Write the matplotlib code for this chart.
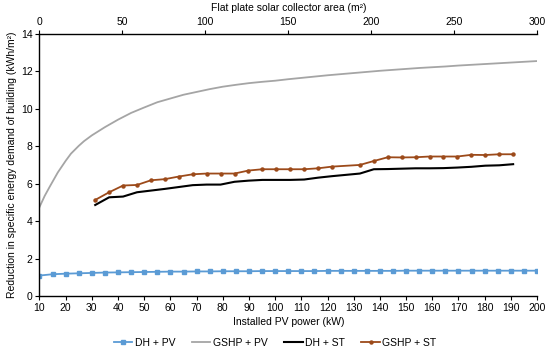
import matplotlib
matplotlib.use("Agg")
import matplotlib.pyplot as plt

plt.rcParams['font.family'] = ['Liberation Sans', 'DejaVu Sans']

# installed PV power (kW) - PV series
pv_kw = [10, 15, 20, 25, 30, 35, 40, 45, 50, 55, 60, 65, 70, 75, 80, 85, 90, 95, 100,
         105, 110, 115, 120, 125, 130, 135, 140, 145, 150, 155, 160, 165, 170, 175,
         180, 185, 190, 195, 200]
dh_pv = [1.09, 1.16, 1.19, 1.21, 1.23, 1.25, 1.26, 1.27, 1.28, 1.29, 1.30, 1.30, 1.31,
         1.31, 1.32, 1.32, 1.32, 1.33, 1.33, 1.33, 1.33, 1.33, 1.34, 1.34, 1.34, 1.34,
         1.34, 1.34, 1.35, 1.35, 1.35, 1.35, 1.35, 1.35, 1.35, 1.35, 1.35, 1.35, 1.35]

# grey curve read more densely at the steep start
gshp_kw = [10, 12, 14, 17, 20, 22, 25, 27, 30, 35, 40, 45, 50, 55, 60, 65, 70, 75, 80,
           85, 90, 95, 100, 105, 110, 115, 120, 125, 130, 135, 140, 145, 150, 155, 160,
           165, 170, 175, 180, 185, 190, 195, 200]
gshp_pv = [4.75, 5.35, 5.86, 6.6, 7.22, 7.6, 8.02, 8.27, 8.58, 9.02, 9.42, 9.78, 10.07,
           10.35, 10.55, 10.75, 10.9, 11.05, 11.18, 11.28, 11.37, 11.44, 11.5, 11.58,
           11.65, 11.72, 11.79, 11.85, 11.91, 11.97, 12.03, 12.08, 12.13, 12.18, 12.22,
           12.26, 12.31, 12.35, 12.39, 12.43, 12.47, 12.51, 12.55]

# flat plate collector area (m2) - ST series
st_area = [33.6, 42.0, 50.4, 58.8, 67.2, 75.6, 84.0, 92.4, 100.8, 109.2, 117.6, 126.0,
           134.4, 142.8, 151.2, 159.6, 168.0, 176.4, 193.2, 201.6, 210.0, 218.4, 226.8,
           235.2, 243.6, 252.0, 260.4, 268.8, 277.2, 285.6]
dh_st = [4.86, 5.27, 5.31, 5.54, 5.63, 5.72, 5.82, 5.92, 5.95, 5.95, 6.1, 6.16, 6.2,
         6.2, 6.2, 6.22, 6.32, 6.4, 6.54, 6.77, 6.78, 6.8, 6.82, 6.82, 6.83, 6.86, 6.9,
         6.96, 6.98, 7.04]
gshp_st = [5.13, 5.54, 5.9, 5.93, 6.18, 6.24, 6.38, 6.5, 6.54, 6.54, 6.54, 6.7, 6.77,
           6.77, 6.77, 6.77, 6.82, 6.91, 7.0, 7.21, 7.41, 7.4, 7.41, 7.45, 7.45, 7.45,
           7.54, 7.53, 7.57, 7.57]

fig = plt.figure(figsize=(5.5, 3.57), dpi=100)
ax = fig.add_axes([0.0718, 0.171, 0.9046, 0.734])
ax2 = ax.twiny()

l1, = ax.plot(pv_kw, dh_pv, color='#5b9bd5', lw=1.3, marker='s', ms=2.5, label='DH + PV')
l2, = ax.plot(gshp_kw, gshp_pv, color='#a5a5a5', lw=1.3, label='GSHP + PV')
l3, = ax2.plot(st_area, dh_st, color='black', lw=1.5, label='DH + ST')
l4, = ax2.plot(st_area, gshp_st, color='#9c4a1a', lw=1.3, marker='o', ms=2.2, label='GSHP + ST')

ax.set_xlim(10, 200)
ax.set_xticks(range(10, 201, 10))
ax.set_ylim(0, 14)
ax.set_yticks(range(0, 15, 2))
ax2.set_xlim(0, 300)
ax2.set_xticks(range(0, 301, 50))

for a in (ax, ax2):
    a.spines['right'].set_visible(False)
    a.tick_params(labelsize=7.5, length=3, width=0.8, pad=2, direction='out')
ax.spines['top'].set_visible(False)
ax2.spines['bottom'].set_visible(False)
ax2.spines['left'].set_visible(False)
ax2.spines['top'].set_linewidth(1.0)
ax.spines['left'].set_linewidth(1.0)
ax.spines['bottom'].set_linewidth(1.0)

ax.set_xlabel('Installed PV power (kW)', fontsize=7.5, labelpad=3)
ax.set_ylabel('Reduction in specific energy demand of building (kWh/m²)', fontsize=7.5, labelpad=3)
ax2.set_xlabel('Flat plate solar collector area (m²)', fontsize=7.5, labelpad=4)

fig.legend(handles=[l1, l2, l3, l4], loc='lower center', bbox_to_anchor=(0.5, 0.0),
           ncol=4, frameon=False, fontsize=7.5, handlelength=1.8, handletextpad=0.2,
           columnspacing=1.6)

fig.savefig('out.png', dpi=100)
